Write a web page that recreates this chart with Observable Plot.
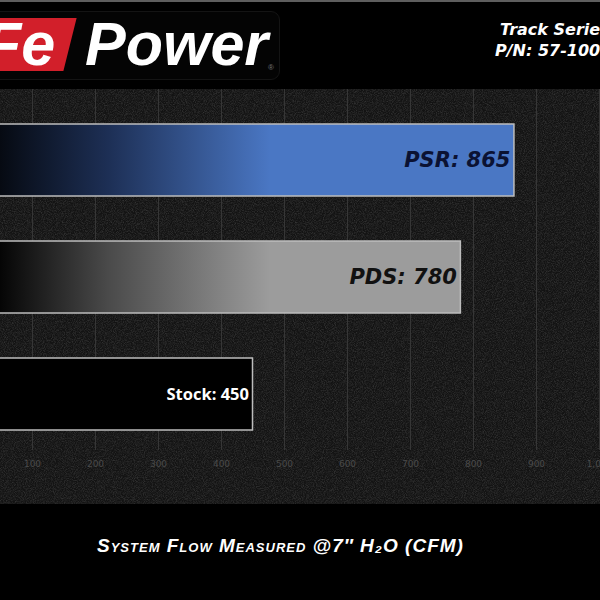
<!DOCTYPE html>
<html><head><meta charset="utf-8">
<script src="https://cdn.jsdelivr.net/npm/d3@7"></script>
<script src="https://cdn.jsdelivr.net/npm/@observablehq/plot@0.6"></script>
<style>
html,body{margin:0;padding:0;background:#000;}
#page{position:relative;width:600px;height:600px;overflow:hidden;background:#000;}
#topline{position:absolute;left:0;top:0;width:600px;height:2px;background:#5e5e5e;}
.logo-box{position:absolute;left:-20px;top:11px;width:298px;height:67px;background:#040404;border:1px solid #141414;border-radius:9px;}
.logo-red{position:absolute;left:-30px;top:18px;width:100px;height:53px;background:#d21f2a;transform:skewX(-14deg);}
.logo-fe{position:absolute;left:-16px;top:14px;font:italic bold 61px/1 "Liberation Sans",sans-serif;color:#fff;}
.logo-power{position:absolute;left:85px;top:14px;font:italic bold 61px/1 "Liberation Sans",sans-serif;color:#fff;}
.logo-reg{position:absolute;left:268px;top:64px;font:8px/1 "Liberation Sans",sans-serif;color:#777;}
.tr{position:absolute;font:italic bold 16px/1 "DejaVu Sans",sans-serif;color:#fff;white-space:nowrap;}
#chart{position:absolute;left:0;top:89px;width:600px;height:415px;}
#caption{position:absolute;left:97px;top:536px;font:italic bold 19px/1 "Liberation Sans",sans-serif;font-variant:small-caps;letter-spacing:1px;color:#fff;white-space:nowrap;}
</style>
</head>
<body>
<div id="page">
  <div id="topline"></div>
  <div class="logo-box"></div>
  <div class="logo-red"></div>
  <div class="logo-fe">Fe</div>
  <div class="logo-power">Power</div>
  <div class="logo-reg">®</div>
  <div class="tr" style="left:500px;top:22px;">Track Series</div>
  <div class="tr" style="left:495px;top:43px;">P/N: 57-10003</div>
  <div id="chart"></div>
  <div id="caption">System Flow Measured @7″ H₂O (CFM)</div>
</div>
<script>
const categories = ["PSR", "PDS", "Stock"];
const flows = [865, 780, 450];
const xTicks = [100, 200, 300, 400, 500, 600, 700, 800, 900, 1000];

const data = categories.map((c, i) => ({category: c, flow: flows[i], label: `${c}: ${flows[i]}`}));

const barFill = {PSR: "url(#gPSR)", PDS: "url(#gPDS)", Stock: "#000"};
const labelStyle = {
  PSR: {fill: "#0b1233", fontSize: 21, fontFamily: "DejaVu Sans", fontStyle: "italic", fontWeight: "bold"},
  PDS: {fill: "#111111", fontSize: 21, fontFamily: "DejaVu Sans", fontStyle: "italic", fontWeight: "bold"},
  Stock: {fill: "#ffffff", fontSize: 16.5, fontFamily: "Open Sans", fontStyle: "normal", fontWeight: "bold"}
};

const plot = Plot.plot({
  width: 600,
  height: 415,
  marginTop: 0,
  marginBottom: 54,
  marginLeft: 0,
  marginRight: 0,
  style: {background: "#131313", overflow: "hidden"},
  x: {domain: [0, 1000], range: [-31, 599]},
  y: {domain: categories, range: [-11.5, 386.5], padding: 0.387, axis: null},
  marks: [
    Plot.gridX(xTicks, {stroke: "#363636", strokeOpacity: 1, strokeWidth: 1}),
    Plot.axisX(xTicks, {tickSize: 0, tickPadding: 10, fill: "#4a4a4a", fontSize: 9, label: null, fontFamily: "DejaVu Sans"}),
    ...categories.map(c => Plot.barX(data.filter(d => d.category === c), {
      x: "flow", y: "category", fill: barFill[c], stroke: "#bdbdbd", strokeWidth: 1.5
    })),
    ...categories.map(c => Plot.text(data.filter(d => d.category === c), {
      x: "flow", y: "category", text: "label", textAnchor: "end", dx: -4, ...labelStyle[c]
    }))
  ]
});

const svg = d3.select(plot);
svg.insert("rect", ":first-child")
  .attr("x", 0).attr("y", 0).attr("width", 600).attr("height", 415)
  .attr("fill", "#fff").attr("filter", "url(#noise)");
const defs = svg.insert("defs", ":first-child");
const f = defs.append("filter").attr("id", "noise").attr("x", 0).attr("y", 0).attr("width", "100%").attr("height", "100%");
f.append("feTurbulence").attr("type", "fractalNoise").attr("baseFrequency", 1.1).attr("numOctaves", 2).attr("stitchTiles", "stitch");
f.append("feColorMatrix").attr("type", "matrix")
  .attr("values", "0 0 0 0 0.2  0 0 0 0 0.2  0 0 0 0 0.2  0.6 0 0 0 -0.22");
function grad(id, stops) {
  const g = defs.append("linearGradient").attr("id", id)
    .attr("gradientUnits", "userSpaceOnUse").attr("x1", 0).attr("x2", 270).attr("y1", 0).attr("y2", 0);
  stops.forEach(([o, c]) => g.append("stop").attr("offset", o).attr("stop-color", c));
}
grad("gPSR", [[0, "#060a12"], [0.4, "#1d2f55"], [1, "#4a77c4"]]);
grad("gPDS", [[0, "#050505"], [0.4, "#4a4a4a"], [1, "#9c9c9c"]]);

document.getElementById("chart").appendChild(plot);
</script>
</body></html>
